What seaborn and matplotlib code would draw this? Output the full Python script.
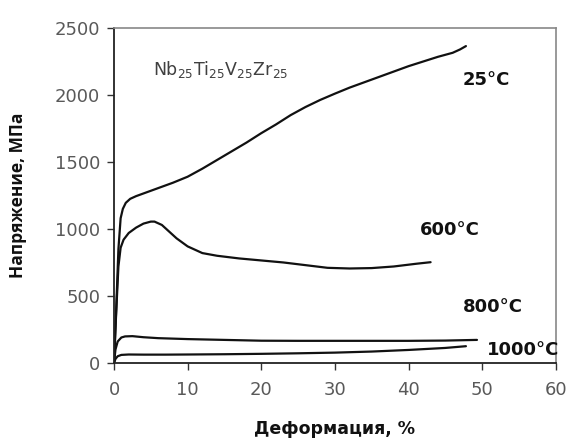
import numpy as np
import pandas as pd
import matplotlib
matplotlib.use("Agg")
import matplotlib.pyplot as plt
import seaborn as sns

# Data
x25 = [0, 0.3, 0.6, 0.9, 1.2, 1.6, 2.2, 3, 4, 5, 6, 8, 10, 12, 14, 16, 18, 20, 22, 24,
       26, 28, 30, 32, 34, 36, 38, 40, 42, 44, 46, 47, 47.8]
y25 = [0, 400, 850, 1080, 1150, 1195, 1225, 1245, 1265, 1285, 1305, 1345, 1390, 1450,
       1515, 1580, 1645, 1715, 1780, 1850, 1910, 1963, 2010, 2055, 2095, 2135, 2175,
       2215, 2250, 2285, 2315, 2340, 2365]
x600 = [0, 0.3, 0.6, 0.9, 1.3, 2, 3, 4, 5, 5.5, 6.5, 7.5, 8.5, 10, 12, 14, 17, 20, 23,
        26, 29, 32, 35, 38, 41, 43]
y600 = [0, 380, 720, 860, 920, 970, 1010, 1040, 1055, 1055, 1030, 980, 930, 870, 820,
        800, 780, 765, 750, 730, 710, 705, 708, 720, 740, 752]
x800 = [0, 0.2, 0.5, 1, 1.5, 2.5, 4, 6, 10, 15, 20, 25, 30, 35, 40, 45, 49.3]
y800 = [0, 100, 160, 190, 198, 200, 192, 185, 178, 172, 166, 165, 165, 165, 165, 167, 172]
x1000 = [0, 0.2, 0.5, 1, 2, 4, 7, 10, 15, 20, 25, 30, 35, 40, 45, 47.8]
y1000 = [0, 30, 50, 60, 63, 62, 62, 63, 65, 68, 72, 77, 85, 97, 112, 125]

series = ["25°C", "600°C", "800°C", "1000°C"]
xs = [x25, x600, x800, x1000]
ys = [y25, y600, y800, y1000]
label_pos = [(50.6, 2115), (45.6, 995), (51.4, 418), (55.6, 100)]

x_ticks = [0, 10, 20, 30, 40, 50, 60]
y_ticks = [0, 500, 1000, 1500, 2000, 2500]

frames = []
for name, xv, yv in zip(series, xs, ys):
    frames.append(pd.DataFrame({"strain": xv, "stress": yv, "T": name}))
df = pd.concat(frames, ignore_index=True)

sns.set_style("white")
plt.rcParams['font.family'] = ['DejaVu Sans']
plt.rcParams['mathtext.default'] = 'regular'

fig = plt.figure(figsize=(5.7, 4.41), dpi=100)
ax = fig.add_axes([0.2, 0.177, 0.775, 0.7595])

sns.lineplot(data=df, x="strain", y="stress", hue="T", units="T", estimator=None,
             sort=False, palette=["#111111"] * 4, linewidth=1.6, legend=False, ax=ax)

ax.set_xlim(0, 60)
ax.set_ylim(0, 2500)
ax.set_xticks(x_ticks)
ax.set_yticks(y_ticks)
ax.tick_params(axis='both', direction='out', length=5, width=1, colors='#333333',
               labelcolor='#595959', labelsize=13)
ax.tick_params(axis='y', pad=5)
ax.tick_params(axis='x', pad=8)
ax.tick_params(top=False, right=False, bottom=True, left=True)

for s in ['left', 'bottom']:
    ax.spines[s].set_color('#222222')
    ax.spines[s].set_linewidth(1.3)
for s in ['top', 'right']:
    ax.spines[s].set_color('#888888')
    ax.spines[s].set_linewidth(1.2)

ax.set_xlabel("Деформация, %", fontsize=12.5, fontweight='bold', family=['DejaVu Sans'],
              color='#111111', labelpad=15)
ax.set_ylabel("Напряжение, МПа", fontsize=12.5, fontweight='bold',
              family=['Open Sans', 'DejaVu Sans'], color='#111111', labelpad=20)

for name, (px, py) in zip(series, label_pos):
    ax.text(px, py, name, fontsize=13, fontweight='bold', family=['DejaVu Sans'],
            color='#111111', ha='center', va='center')

ax.text(5.3, 2190, "Nb$_{25}$Ti$_{25}$V$_{25}$Zr$_{25}$", fontsize=12.5,
        color='#404040', ha='left', va='center')

fig.savefig("out.png", dpi=100)
